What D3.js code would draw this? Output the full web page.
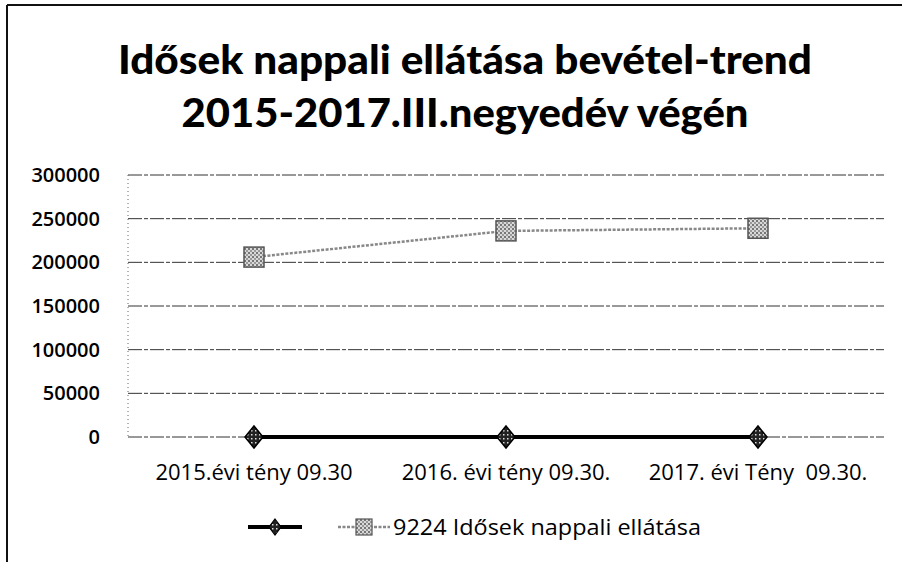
<!DOCTYPE html>
<html><head><meta charset="utf-8">
<script src="https://cdn.jsdelivr.net/npm/d3@7"></script>
<style>body{margin:0;background:#fff;}svg{display:block;}</style>
</head><body>
<svg id="c" width="902" height="562"></svg>
<script>
const categories = ["2015.évi tény 09.30", "2016. évi tény 09.30.", "2017. évi Tény  09.30."];
const seriesBlank = [0, 0, 0];
const series9224 = [206000, 236000, 239000];
const seriesNames = ["", "9224 Idősek nappali ellátása"];
const yTicks = [0, 50000, 100000, 150000, 200000, 250000, 300000];
const titleLines = ["Idősek nappali ellátása bevétel-trend", "2015-2017.III.negyedév végén"];

const svg = d3.select("#c");
const defs = svg.append("defs");
const pg = defs.append("pattern").attr("id","sq").attr("width",4).attr("height",4).attr("patternUnits","userSpaceOnUse");
pg.append("rect").attr("width",4).attr("height",4).attr("fill","#d8d8d8");
pg.append("rect").attr("width",2).attr("height",2).attr("fill","#777");
pg.append("rect").attr("x",2).attr("y",2).attr("width",2).attr("height",2).attr("fill","#999");
const pd = defs.append("pattern").attr("id","dm").attr("width",4).attr("height",4).attr("patternUnits","userSpaceOnUse");
pd.append("rect").attr("width",4).attr("height",4).attr("fill","#222");
pd.append("rect").attr("x",1).attr("y",1).attr("width",1.5).attr("height",1.5).attr("fill","#ddd");

// border (scan shows left + top edges)
svg.append("line").attr("x1",7).attr("x2",7).attr("y1",5).attr("y2",562).attr("stroke","#111").attr("stroke-width",2);
svg.append("line").attr("x1",7).attr("x2",902).attr("y1",5).attr("y2",5).attr("stroke","#111").attr("stroke-width",2);

// title
const tl = [694, 567];
svg.selectAll("text.title").data(titleLines).join("text")
  .attr("class","title")
  .attr("x", 465).attr("y", (d,i)=> 74 + i*53)
  .attr("text-anchor","middle")
  .attr("font-family","Lato, 'Open Sans', sans-serif")
  .attr("font-weight","900")
  .attr("font-size", 40)
  .attr("textLength",(d,i)=>tl[i]).attr("lengthAdjust","spacingAndGlyphs")
  .attr("fill","#000")
  .text(d=>d);

const L = 128, R = 884, T = 175, B = 437;
const x = d3.scaleBand().domain(categories).range([L, R]);
const y = d3.scaleLinear().domain([0, 300000]).range([B, T]);

// gridlines
const g = svg.append("g");
g.selectAll("line.grid").data(yTicks).join("line")
  .attr("x1", L).attr("x2", R)
  .attr("y1", d=>y(d)).attr("y2", d=>y(d))
  .attr("stroke","#333").attr("stroke-width",1)
  .attr("stroke-dasharray","14,2,4,2");
// y axis (dotted)
g.append("line").attr("x1",L).attr("x2",L).attr("y1",T).attr("y2",B)
  .attr("stroke","#666").attr("stroke-width",1).attr("stroke-dasharray","1,3");

// y labels via axis
const yAxis = d3.axisLeft(y).tickValues(yTicks).tickSize(0).tickPadding(28).tickFormat(d3.format("d"));
const ya = svg.append("g").attr("transform",`translate(${L},0)`).call(yAxis);
ya.select(".domain").remove();
ya.selectAll("text").attr("font-family","'Open Sans', sans-serif").attr("font-weight","600")
  .attr("font-size",20).attr("fill","#000");

// x labels via axis
const xAxis = d3.axisBottom(x).tickSize(0).tickPadding(27);
const xa = svg.append("g").attr("transform",`translate(0,${B})`).call(xAxis);
xa.select(".domain").remove();
xa.selectAll("text").attr("font-family","'Open Sans', sans-serif")
  .attr("font-size",22).attr("fill","#000").style("white-space","pre");

const cx = d => x(d) + x.bandwidth()/2;
const line = d3.line().x((d,i)=>cx(categories[i])).y(d=>y(d));

// series 9224 (grey, square markers)
svg.append("path").datum(series9224).attr("d", line)
  .attr("fill","none").attr("stroke","#888").attr("stroke-width",2.5).attr("stroke-dasharray","3,1.5");
svg.selectAll("rect.sq").data(series9224).join("rect").attr("class","sq")
  .attr("x",(d,i)=>cx(categories[i])-10).attr("y",d=>y(d)-10)
  .attr("width",20).attr("height",20)
  .attr("fill","url(#sq)").attr("stroke","#555").attr("stroke-width",1.5);

// blank-name series (black, diamond markers)
svg.append("path").datum(seriesBlank).attr("d", line)
  .attr("fill","none").attr("stroke","#000").attr("stroke-width",4);
const diamond = "M0,-11L9,0L0,11L-9,0Z";
svg.selectAll("path.dm").data(seriesBlank).join("path").attr("class","dm")
  .attr("transform",(d,i)=>`translate(${cx(categories[i])},${y(d)})`)
  .attr("d", diamond).attr("fill","url(#dm)").attr("stroke","#000").attr("stroke-width",1.5);

// legend
const lg = svg.append("g").attr("transform","translate(0,527)");
lg.append("line").attr("x1",248).attr("x2",302).attr("y1",0).attr("y2",0).attr("stroke","#000").attr("stroke-width",4);
lg.append("path").attr("transform","translate(275,0)").attr("d","M0,-8L6,0L0,8L-6,0Z").attr("fill","url(#dm)").attr("stroke","#000").attr("stroke-width",1.2);
lg.append("line").attr("x1",338).attr("x2",390).attr("y1",0).attr("y2",0).attr("stroke","#888").attr("stroke-width",2.5).attr("stroke-dasharray","3,1.5");
lg.append("rect").attr("x",356).attr("y",-8).attr("width",16).attr("height",16).attr("fill","url(#sq)").attr("stroke","#555").attr("stroke-width",1.2);
lg.append("text").attr("x",393).attr("y",0).attr("dy","0.35em")
  .attr("font-family","'Open Sans', sans-serif").attr("font-size",22).attr("fill","#000")
  .attr("textLength",308).attr("lengthAdjust","spacingAndGlyphs")
  .text(seriesNames[1]);
</script>
</body></html>
